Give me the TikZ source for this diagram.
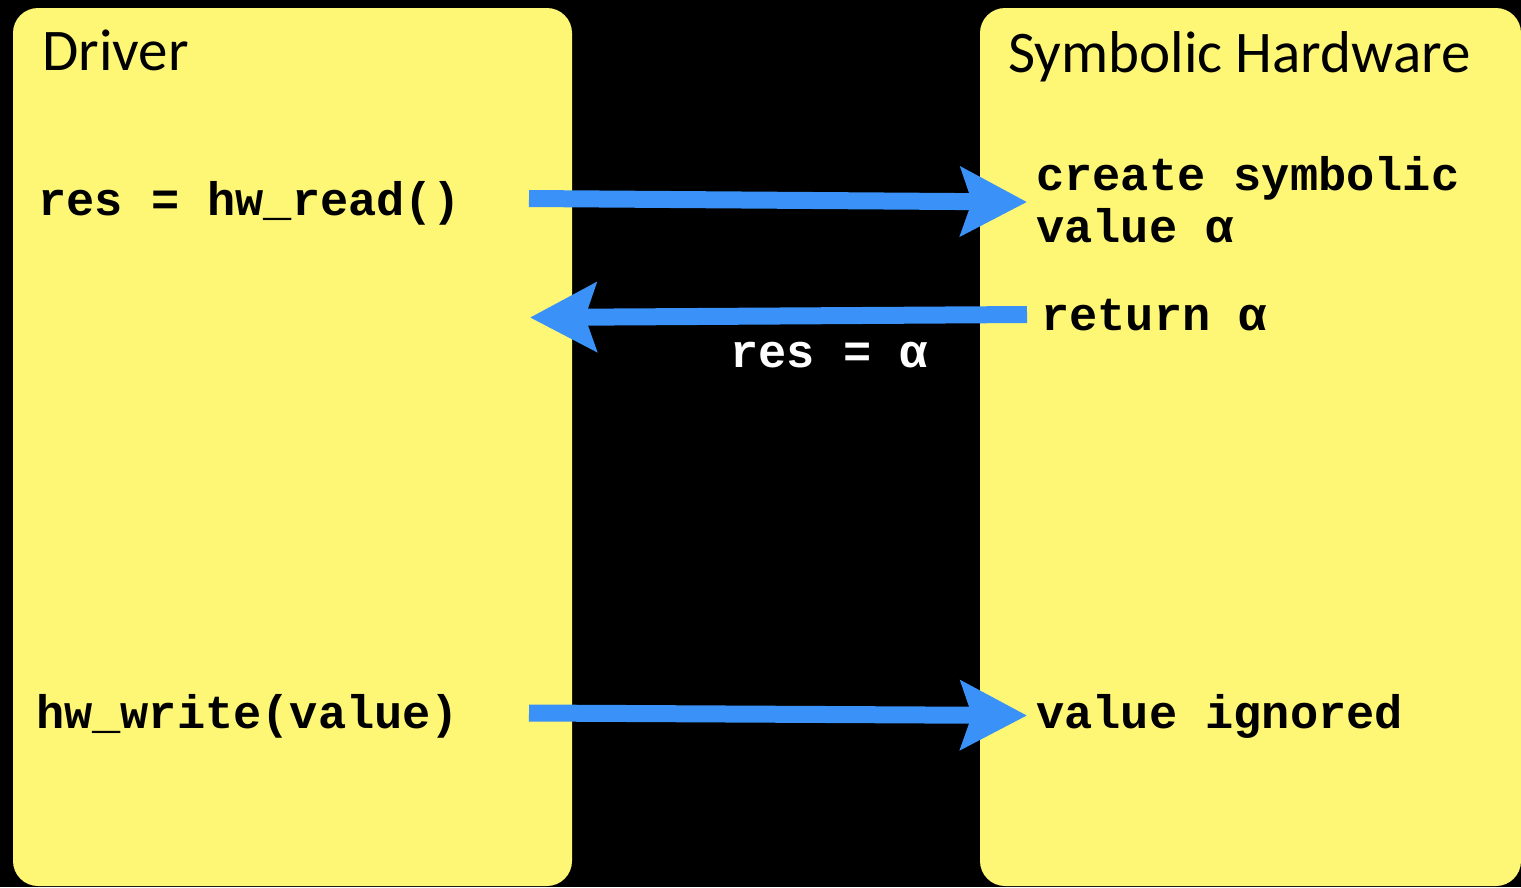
\documentclass[tikz,border=0pt]{standalone}
\usepackage{fontspec}
\setmainfont{Carlito}
\newfontfamily\codefont{Liberation Mono}
\usetikzlibrary{arrows.meta}
\definecolor{boxyellow}{RGB}{254,246,117}
\definecolor{arrowblue}{RGB}{58,146,248}
\tikzset{
  panel/.style={fill=boxyellow, draw=none, rounded corners=25pt},
  title/.style={anchor=base west, inner sep=0pt, font=\fontsize{59}{61}\selectfont, text=black},
  code/.style={anchor=base west, inner sep=0pt, font=\codefont\bfseries\fontsize{47}{52}\selectfont, text=black, align=left},
  flow/.style={draw=arrowblue, line width=17pt, -{Stealth[length=66pt, width=68pt, inset=11pt]}},
}
\begin{document}
\begin{tikzpicture}[x=1pt, y=-1pt]
\fill[black] (0,0) rectangle (1521,887);
\useasboundingbox (0,0) rectangle (1521,887);
\fill[panel] (13,8) rectangle (572,886);
\fill[panel] (980,8) rectangle (1521,886);
\node[title] (driver) at (42,70) {Driver};
\node[title] (symhw) at (1008,72) {Symbolic Hardware};
\node[code] (read) at (38,215) {res = hw\_read()};
\node[code] (create) at (1036,242) {create symbolic\\value α};
\node[code] (ret) at (1041,330) {return α};
\node[code, text=white] (resa) at (730,367) {res = α};
\node[code] (write) at (36,728) {hw\_write(value)};
\node[code] (ignored) at (1036,728) {value ignored};
\coordinate (a1s) at (529,198.5);
\coordinate (a1e) at (1027,202);
\coordinate (a2s) at (1027,314.5);
\coordinate (a2e) at (530,317.5);
\coordinate (a3s) at (529,713);
\coordinate (a3e) at (1027,715.5);
\draw[flow] (a1s) -- (a1e);
\draw[flow] (a2s) -- (a2e);
\draw[flow] (a3s) -- (a3e);
\end{tikzpicture}
\end{document}
